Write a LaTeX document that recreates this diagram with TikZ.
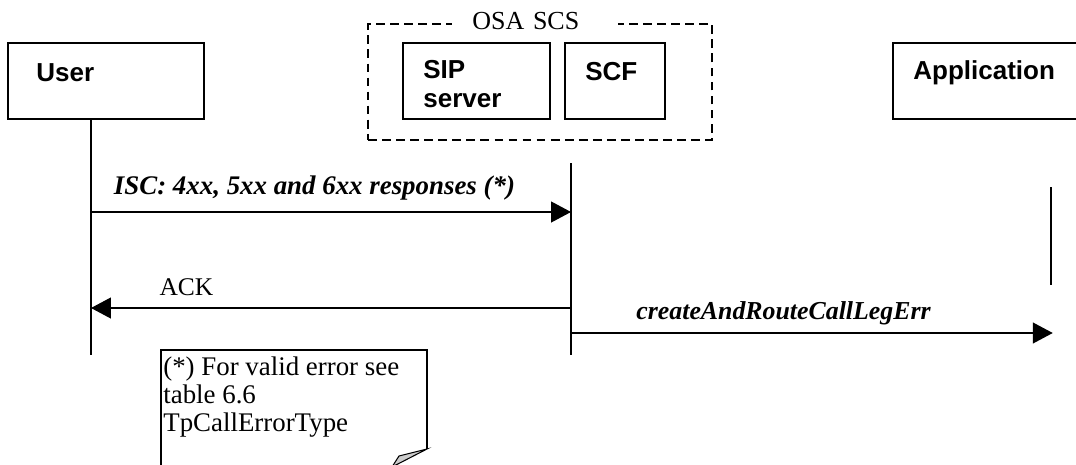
\documentclass[tikz,border=0pt]{standalone}
\usepackage{fontspec}
\setmainfont{Liberation Serif}
\setsansfont{Liberation Sans}
\usetikzlibrary{arrows.meta, positioning}

\begin{document}
\begin{tikzpicture}[
      x=0.02cm, y=-0.02cm,
      box/.style={draw, line width=0.6pt, inner sep=0pt, minimum height=1.52cm},
      boxtext/.style={font=\sffamily\bfseries\fontsize{14.8}{16.5}\selectfont, align=left, inner sep=0pt, anchor=west},
      group/.style={draw, line width=1.3pt, dash pattern=on 5pt off 3pt, inner sep=0pt},
      life/.style={line width=0.8pt},
      msg/.style={line width=0.7pt},
      msgtext/.style={font=\fontsize{14.7}{16}\selectfont\bfseries\itshape, inner sep=0pt},
      >={Triangle[length=0.4cm, width=0.42cm]}
    ]
    \useasboundingbox (0,0) rectangle (1076,464);

    % boxes
    \node[group, minimum width=6.88cm, minimum height=2.32cm] (osa) at (540,82) {};
    \node[fill=white, inner xsep=0pt, inner ysep=2pt, text width=3.32cm, align=left, anchor=west,
          font=\fontsize{14.8}{16}\selectfont] (osaLbl) at (452,21) {\hspace*{0.4cm}OSA SCS};
    \node[box, minimum width=3.92cm] (user) at (106,81) {};
    \node[box, minimum width=2.94cm] (sip) at (476.5,81) {};
    \node[box, minimum width=2cm] (scf) at (615,81) {};
    \node[box, minimum width=3.94cm] (app) at (991.5,81) {};
    \node[boxtext] (userTxt) at (36,73) {User};
    \node[boxtext] (sipTxt) at (423,84) {SIP\\server};
    \node[boxtext] (scfTxt) at (585,72) {SCF};
    \node[boxtext] (appTxt) at (913,73) {Application};

    % lifelines
    \coordinate (userEnd) at (91,355);
    \coordinate (scfTop) at (571,163);
    \coordinate (scfEnd) at (571,355);
    \coordinate (appTop) at (1051,187);
    \coordinate (appEnd) at (1051,285);
    \draw[life] (user.south -| userEnd) -- (userEnd);
    \draw[life] (scfTop) -- (scfEnd);
    \draw[life] (appTop) -- (appEnd);

    % messages
    \coordinate (m1) at (0,212);
    \coordinate (m2) at (0,308);
    \coordinate (m3) at (0,333);
    \draw[msg,->] (userEnd |- m1) -- (scfEnd |- m1);
    \node[msgtext, font=\fontsize{15.3}{16}\selectfont\bfseries\itshape] (iscLbl) at (314.5,188) {ISC: 4xx, 5xx and 6xx responses (*)};
    \draw[msg,->] (scfEnd |- m2) -- (userEnd |- m2);
    \node[msgtext, font=\fontsize{14.5}{16}\selectfont] (ackLbl) at (186.5,287) {ACK};
    \draw[msg,->] (scfEnd |- m3) -- ([xshift=1pt]appEnd |- m3);
    \node[msgtext] (carLbl) at (783.5,313) {createAndRouteCallLegErr};

    % note
    \draw[line width=0.6pt] (161,470) -- (161,350) -- (427,350) -- (427,449);
    \filldraw[line width=0.6pt, fill=gray!40] (427,449) -- (399,456) -- (392,467) -- cycle;
    \node[anchor=north west, inner sep=0pt, align=left, font=\fontsize{15.3}{16.2}\selectfont]
      (noteTxt) at (163,356) {(*) For valid error see\\table 6.6\\TpCallErrorType};
  \end{tikzpicture}
\end{document}
